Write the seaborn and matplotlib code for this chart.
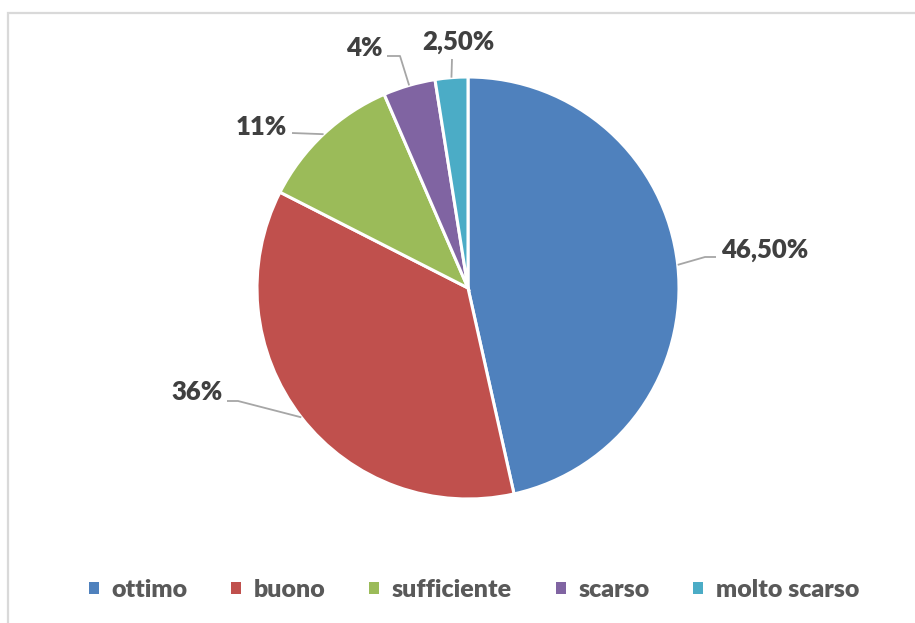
# Pie chart - giudizio complessivo (ottimo ... molto scarso)

import numpy as np
import matplotlib.pyplot as plt
import seaborn as sns
from matplotlib.patches import Patch, Rectangle

# Data
categories = ["ottimo", "buono", "sufficiente", "scarso", "molto scarso"]
values = [46.5, 36, 11, 4, 2.5]
pct_labels = ["46,50%", "36%", "11%", "4%", "2,50%"]
colors = ["#4F81BD", "#C0504D", "#9BBB59", "#8064A2", "#4BACC6"]

sns.set_theme(style="white")
plt.rcParams["font.family"] = ["Lato", "DejaVu Sans"]

W, H = 915, 623
fig = plt.figure(figsize=(W / 100, H / 100), dpi=100)
ax = fig.add_axes([0, 0, 1, 1])

# light grey frame around the chart area
ax.add_patch(Rectangle((8, -10), 920, H - 12.5 + 10, fill=False,
                       edgecolor="#d9d9d9", linewidth=1.6))

# pie geometry (pixels, y measured from the bottom)
cx, cy, r = 468, H - 288, 211
wedges, _ = ax.pie(values, colors=colors, startangle=90, counterclock=False,
                   center=(cx, cy), radius=r,
                   wedgeprops=dict(edgecolor="white", linewidth=2.2))

# label placement (image pixel coords, y from top): text centre + elbow points
label_pos = [(765, 250), (197, 392), (261, 127), (364, 48), (458, 42)]
elbows = [
    [(705, 257), (716, 257)],
    [(238, 401), (227, 401)],
    [(292, 133)],
    [(400, 56), (387, 56)],
    [(452, 59)],
]

for w, lab, (tx, ty), elb in zip(wedges, pct_labels, label_pos, elbows):
    mid = np.deg2rad((w.theta1 + w.theta2) / 2)
    ax0 = cx + r * np.cos(mid)
    ay0 = cy + r * np.sin(mid)
    xs = [ax0] + [p[0] for p in elb]
    ys = [ay0] + [H - p[1] for p in elb]
    ax.plot(xs, ys, color="#a6a6a6", linewidth=1.3, solid_capstyle="butt")
    ax.text(tx, H - ty, lab, ha="center", va="center", fontsize=18.5,
            fontweight="heavy", color="#404040")

ax.set_xlim(0, W)
ax.set_ylim(0, H)
ax.set_aspect("equal")
ax.axis("off")

handles = [Patch(facecolor=c, edgecolor="none") for c in colors]
fig.legend(handles, categories, loc="center", ncol=5, frameon=False,
           bbox_to_anchor=(474 / W, 1 - 590 / H),
           prop=dict(family=["Lato", "DejaVu Sans"], weight="heavy", size=18),
           labelcolor="#595959", handlelength=0.4, handleheight=0.4,
           handletextpad=0.5, columnspacing=1.75)

fig.savefig("out.png", dpi=100)
